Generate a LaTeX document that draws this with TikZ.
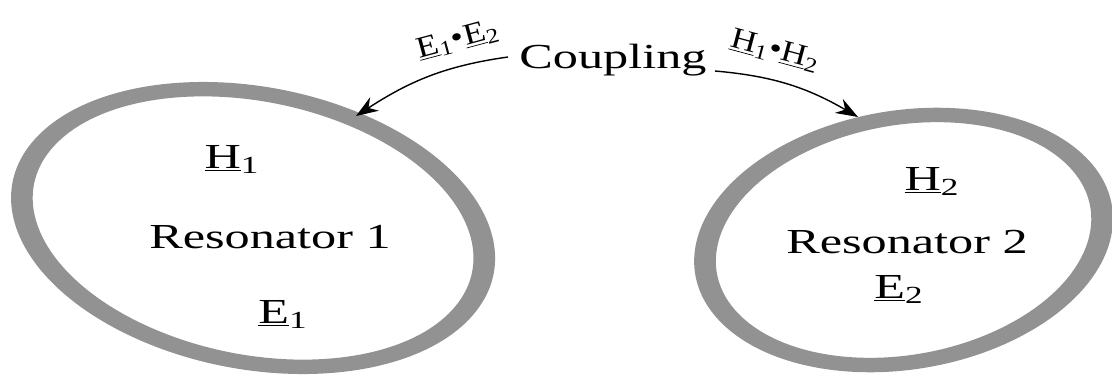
\documentclass[tikz,border=0pt]{standalone}
\usepackage{fontspec}
\setmainfont{Liberation Serif}[FakeStretch=1.43]
\newfontfamily\pairfont{Liberation Serif}[FakeStretch=1.2]
\usetikzlibrary{arrows.meta}
\definecolor{ringgray}{RGB}{146,146,146}

\begin{document}
\begin{tikzpicture}[
    x=0.02cm, y=0.02cm,
    >={Stealth[length=4.4mm, width=3.2mm]},
    every node/.style = {font=\fontsize{20}{24}\selectfont, inner sep=0pt},
    ring/.style       = {fill=ringgray, even odd rule},
    txt/.style        = {anchor=base},
    pair/.style       = {font=\pairfont\fontsize{17}{20}\selectfont},
    link/.style       = {->, line width=0.8pt}
]
\useasboundingbox (0,0) rectangle (1112,376);

% Resonator rings (drawn unstretched, then widened)
\begin{scope}[xscale=1.5]
  \coordinate (c1) at (168.7,148);
  \coordinate (c2) at (602.3,136);
  \fill[ring] (c1) ellipse [x radius=170.5, y radius=135.2, rotate=-32.1]
              (c1) ellipse [x radius=156, y radius=120.7, rotate=-32.1];
  \fill[ring] (c2) ellipse [x radius=147, y radius=124, rotate=35.7]
              (c2) ellipse [x radius=132.5, y radius=109.5, rotate=35.7];
\end{scope}

% Texts inside the resonators
\node[txt] (h1)   at (232,208) {\underline{H}\textsubscript{1}};
\node[txt] (res1) at (270,128) {Resonator 1};
\node[txt] (e1)   at (283,53)  {\underline{E}\textsubscript{1}};
\node[txt] (h2)   at (932,186) {\underline{H}\textsubscript{2}};
\node[txt] (res2) at (907,123) {Resonator 2};
\node[txt] (e2)   at (899,78)  {\underline{E}\textsubscript{2}};

% Coupling labels
\node[txt] (coupling) at (613,308) {Coupling};
\node[pair, rotate=15]  (e12) at (458,336)
    {\underline{E}\textsubscript{1}•\underline{E}\textsubscript{2}};
\node[pair, rotate=-15] (h12) at (775,325)
    {\underline{H}\textsubscript{1}•\underline{H}\textsubscript{2}};

% Coupling arrows
\coordinate (s1)   at (508,319);
\coordinate (hit1) at (356,260);
\coordinate (s2)   at (715,305);
\coordinate (hit2) at (858,259);
\draw[link] (s1) to[out=188, in=33] (hit1);
\draw[link] (s2) to[out=-5, in=150] (hit2);

\end{tikzpicture}
\end{document}
